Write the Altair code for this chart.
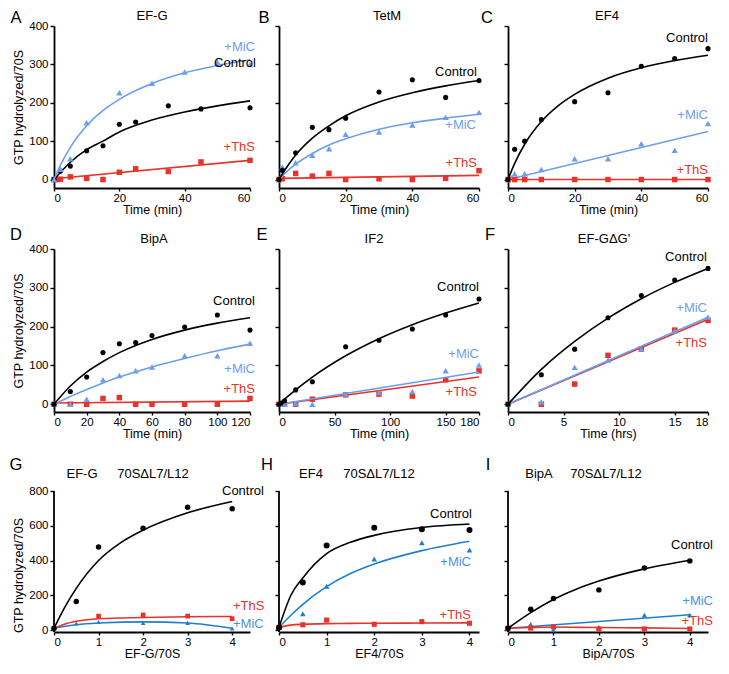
import altair as alt
import pandas as pd

# ---------------- data ----------------
# A  EF-G
A_ctrl_t = [0, 2, 5, 10, 15, 20, 25, 35, 45, 60]
A_ctrl_v = [0, 22, 35, 75, 88, 144, 150, 192, 184, 187]
A_mic_t = [0, 2, 5, 10, 20, 30, 40, 50, 60]
A_mic_v = [0, 27, 54, 148, 226, 251, 280, 306, 300]
A_ths_t = [0, 1, 2, 5, 10, 15, 20, 25, 35, 45, 60]
A_ths_v = [0, 0, 1, 7, 3, 0, 19, 28, 21, 46, 50]
A_fit_t = [0, 2, 5, 10, 15, 20, 30, 40, 50, 60]
A_ctrl_fit = [0, 19, 45, 78, 100, 124, 155, 176, 192, 205]
A_mic_fit = [0, 38, 84, 140, 180, 209, 250, 278, 297, 312]
A_ths_fit_t = [0, 60]
A_ths_fit = [2, 50]

# B  TetM
B_t = [0, 1, 5, 10, 15, 20, 30, 40, 50, 60]
B_ctrl_v = [0, 24, 70, 136, 130, 160, 228, 260, 214, 258]
B_mic_v = [0, 33, 44, 63, 80, 118, 124, 142, 162, 175]
B_ths_v = [0, 2, 16, 9, 16, 0, 2, 0, 3, 23]
B_fit_t = [0, 2, 5, 10, 15, 20, 30, 40, 50, 60]
B_ctrl_fit = [0, 28, 64, 108, 140, 166, 202, 226, 244, 258]
B_mic_fit = [0, 18, 40, 68, 90, 106, 131, 148, 160, 170]
B_ths_fit_t = [0, 60]
B_ths_fit = [3, 11]

# C  EF4
C_ctrl_t = [0, 2, 5, 10, 20, 30, 40, 50, 60]
C_ctrl_v = [0, 79, 100, 156, 203, 226, 295, 315, 341]
C_mic_t = [0, 1, 2, 5, 10, 20, 30, 40, 50, 60]
C_mic_v = [0, 5, 15, 15, 26, 54, 54, 93, 76, 146]
C_ths_t = [0, 2, 5, 10, 20, 30, 40, 50, 60]
C_ths_v = [0, 0, 0, 0, 0, 0, 0, 0, 0]
C_fit_t = [0, 2, 5, 10, 15, 20, 30, 40, 50, 60]
C_ctrl_fit = [0, 42, 92, 151, 192, 222, 264, 291, 310, 324]
C_lin_t = [0, 60]
C_mic_fit = [0, 125]
C_ths_fit = [0, 0]

# D  BipA
D_t = [0, 10, 20, 30, 40, 50, 60, 80, 100, 120]
D_ctrl_v = [0, 33, 70, 133, 156, 159, 177, 199, 230, 191]
D_mic_v = [0, 0, 13, 63, 74, 86, 96, 125, 125, 157]
D_ths_v = [0, 0, 0, 15, 17, 0, 0, 0, 0, 15]
D_fit_t = [0, 10, 20, 30, 40, 60, 80, 100, 120]
D_ctrl_fit = [0, 47, 83, 110, 133, 167, 191, 209, 223]
D_mic_fit = [0, 20, 38, 55, 70, 96, 118, 138, 155]
D_ths_fit_t = [0, 120]
D_ths_fit = [3, 8]

# E  IF2
E_t = [0, 2, 5, 15, 30, 60, 90, 120, 150, 180]
E_ctrl_v = [0, 3, 9, 37, 58, 148, 165, 194, 230, 271]
E_mic_v = [0, 0, 0, 2, 0, 26, 30, 33, 86, 101]
E_ths_v = [0, 0, 0, 0, 13, 24, 26, 21, 63, 86]
E_fit_t = [0, 5, 15, 30, 60, 90, 120, 150, 180]
E_ctrl_fit = [0, 13, 37, 70, 125, 169, 205, 235, 261]
E_lin_t = [0, 180]
E_mic_fit = [0, 83]
E_ths_fit = [0, 70]

# F  EF-G dG'
F_t = [0, 3, 6, 9, 12, 15, 18]
F_ctrl_v = [0, 76, 142, 223, 280, 320, 350]
F_mic_v = [0, 6, 95, 114, 142, 189, 225]
F_ths_v = [0, 0, 52, 126, 142, 191, 216]
F_ctrl_fit = [0, 90, 162, 222, 272, 314, 350]
F_lin_t = [0, 18]
F_mic_fit = [0, 224]
F_ths_fit = [0, 219]

# G  EF-G 70S dL7/L12
G_x = [0, 0.5, 1, 2, 3, 4]
G_ctrl_v = [10, 164, 478, 586, 707, 698]
G_mic_v = [10, 37, 46, 41, 41, 9]
G_ths_x = [0, 1, 2, 3, 4]
G_ths_v = [10, 80, 87, 80, 65]
G_ctrl_fit_x = [0, 0.25, 0.5, 1, 1.5, 2, 3, 4]
G_ctrl_fit = [10, 135, 240, 400, 503, 575, 675, 740]
G_mic_fit_x = [0, 0.5, 1, 2, 3, 4]
G_mic_fit = [10, 30, 40, 47, 40, 10]
G_ths_fit_x = [0, 0.25, 0.5, 1, 2, 3, 4]
G_ths_fit = [10, 35, 50, 65, 72, 76, 78]

# H  EF4 70S dL7/L12
H_x = [0, 0.5, 1, 2, 3, 4]
H_ctrl_v = [15, 274, 487, 589, 580, 576]
H_mic_v = [15, 94, 252, 409, 502, 461]
H_ths_v = [15, 30, 57, 33, 48, 39]
H_fit_x = [0, 0.25, 0.5, 1, 1.5, 2, 3, 4]
H_ctrl_fit = [15, 200, 300, 440, 505, 545, 590, 610]
H_mic_fit = [15, 85, 148, 250, 325, 380, 457, 511]
H_ths_fit = [15, 28, 33, 37, 38, 39, 40, 41]

# I  BipA 70S dL7/L12
I_x = [0, 0.5, 1, 2, 3, 4]
I_ctrl_v = [10, 120, 181, 231, 357, 398]
I_mic_v = [10, 33, 0, 15, 85, 85]
I_ths_v = [10, 11, 18, 6, 6, 6]
I_ctrl_fit_x = [0, 0.5, 1, 1.5, 2, 3, 4]
I_ctrl_fit = [10, 100, 176, 235, 282, 352, 402]
I_lin_x = [0, 4]
I_mic_fit = [10, 88]
I_ths_fit_x = [0, 0.5, 1, 2, 3, 4]
I_ths_fit = [10, 14, 17, 14, 12, 9]

# ---------------- styling ----------------
BLACK = "#000000"
RED = "#e8322b"
BLUE = "#6d9eeb"
BLUE_D = "#1f7fcf"
BLUE_L = "#4b93e6"
FONT = "Liberation Sans"
LETTER_FONT = "Liberation Sans"

Y_TITLE = "GTP hydrolyzed/70S"


def ctrl(px, py, fx, fy, size=26):
    return (px, py, fx, fy, BLACK, "circle", size)


def mic(px, py, fx, fy, color=BLUE, size=40):
    return (px, py, fx, fy, color, "triangle-up", size)


def ths(px, py, fx, fy, size=30):
    return (px, py, fx, fy, RED, "square", size)


ROW1 = dict(ydom=[-22, 400], yticks=[0, 100, 200, 300, 400], h=162, row3=False, lb=-3, tb=-6)
ROW2 = dict(ydom=[-20, 400], yticks=[0, 100, 200, 300, 400], h=163, row3=False, lb=-9, tb=-6)
ROW3 = dict(ydom=[-11.5, 904], yticks=[0, 200, 400, 600, 800], h=159, row3=True, lb=-3, tb=5)

panels = [
    dict(ROW1, letter="A", lx=-38, w=196, ylab=True,
         titles=[("EF-G", 98)],
         xdom=[0, 60], xticks=[0, 20, 40, 60], xtitle="Time (min)",
         series=[ths(A_ths_t, A_ths_v, A_ths_fit_t, A_ths_fit),
                 ctrl(A_ctrl_t, A_ctrl_v, A_fit_t, A_ctrl_fit),
                 mic(A_mic_t, A_mic_v, A_fit_t, A_mic_fit)],
         labels=[("+MiC", 201, 21, "right", BLUE), ("Control", 202, 37, "right", BLACK),
                 ("+ThS", 201, 121, "right", RED)]),
    dict(ROW1, letter="B", lx=-15, w=200, ylab=False,
         titles=[("TetM", 108)],
         xdom=[0, 60], xticks=[0, 20, 40, 60], xtitle="Time (min)",
         series=[ths(B_t, B_ths_v, B_ths_fit_t, B_ths_fit),
                 mic(B_t, B_mic_v, B_fit_t, B_mic_fit),
                 ctrl(B_t, B_ctrl_v, B_fit_t, B_ctrl_fit)],
         labels=[("Control", 198, 46, "right", BLACK), ("+MiC", 197, 99, "right", BLUE),
                 ("+ThS", 198, 137, "right", RED)]),
    dict(ROW1, letter="C", lx=-21, w=200, ylab=False,
         titles=[("EF4", 99)],
         xdom=[0, 60], xticks=[0, 20, 40, 60], xtitle="Time (min)",
         series=[mic(C_mic_t, C_mic_v, C_lin_t, C_mic_fit),
                 ths(C_ths_t, C_ths_v, C_lin_t, C_ths_fit),
                 ctrl(C_ctrl_t, C_ctrl_v, C_fit_t, C_ctrl_fit)],
         labels=[("Control", 200, 12, "right", BLACK), ("+MiC", 200, 89, "right", BLUE),
                 ("+ThS", 200, 144, "right", RED)]),
    dict(ROW2, letter="D", lx=-38, w=196, ylab=True,
         titles=[("BipA", 100)],
         xdom=[0, 120], xticks=[0, 20, 40, 60, 80, 100, 120], xtitle="Time (min)",
         series=[ths(D_t, D_ths_v, D_ths_fit_t, D_ths_fit),
                 mic(D_t, D_mic_v, D_fit_t, D_mic_fit),
                 ctrl(D_t, D_ctrl_v, D_fit_t, D_ctrl_fit)],
         labels=[("Control", 201, 52, "right", BLACK), ("+MiC", 201, 120, "right", BLUE),
                 ("+ThS", 201, 140, "right", RED)]),
    dict(ROW2, letter="E", lx=-17, w=200, ylab=False,
         titles=[("IF2", 95)],
         xdom=[0, 180], xticks=[0, 50, 100, 150, 180], xtitle="Time (min)",
         series=[ths(E_t, E_ths_v, E_lin_t, E_ths_fit),
                 mic(E_t, E_mic_v, E_lin_t, E_mic_fit),
                 ctrl(E_t, E_ctrl_v, E_fit_t, E_ctrl_fit)],
         labels=[("Control", 200, 38, "right", BLACK), ("+MiC", 200, 105, "right", BLUE),
                 ("+ThS", 198, 143, "right", RED)]),
    dict(ROW2, letter="F", lx=-18, w=200, ylab=False,
         titles=[("EF-G\u0394G'", 96)],
         xdom=[0, 18], xticks=[0, 5, 10, 15, 18], xtitle="Time (hrs)",
         series=[ths(F_t, F_ths_v, F_lin_t, F_ths_fit),
                 mic(F_t, F_mic_v, F_lin_t, F_mic_fit),
                 ctrl(F_t, F_ctrl_v, F_t, F_ctrl_fit)],
         labels=[("Control", 199, 8, "right", BLACK), ("+MiC", 199, 59, "right", BLUE),
                 ("+ThS", 199, 94, "right", RED)]),
    dict(ROW3, letter="G", lx=-38, w=196, ylab=True,
         titles=[("EF-G", 28), ("70S\u0394L7/L12", 99)],
         xdom=[0, 4.4], xticks=[0, 1, 2, 3, 4], xtitle="EF-G/70S",
         series=[mic(G_x, G_mic_v, G_mic_fit_x, G_mic_fit, color=BLUE_D, size=22),
                 ths(G_ths_x, G_ths_v, G_ths_fit_x, G_ths_fit, size=22),
                 ctrl(G_x, G_ctrl_v, G_ctrl_fit_x, G_ctrl_fit, size=30)],
         labels=[("Control", 168, 18, "left", BLACK), ("+ThS", 179, 133, "left", RED),
                 ("+MiC", 179, 151, "left", BLUE_L)]),
    dict(ROW3, letter="H", lx=-12, w=200, ylab=False,
         titles=[("EF4", 32), ("70S\u0394L7/L12", 100)],
         xdom=[0, 4.2], xticks=[0, 1, 2, 3, 4], xtitle="EF4/70S",
         series=[ths(H_x, H_ths_v, H_fit_x, H_ths_fit, size=26),
                 mic(H_x, H_mic_v, H_fit_x, H_mic_fit, color=BLUE_D, size=32),
                 ctrl(H_x, H_ctrl_v, H_fit_x, H_ctrl_fit, size=36)],
         labels=[("Control", 193, 41, "right", BLACK), ("+MiC", 192, 89, "right", BLUE_L),
                 ("+ThS", 192, 142, "right", RED)]),
    dict(ROW3, letter="I", lx=-20, w=200, ylab=False,
         titles=[("BipA", 31), ("70S\u0394L7/L12", 98)],
         xdom=[0, 4.4], xticks=[0, 1, 2, 3, 4], xtitle="BipA/70S",
         series=[mic(I_x, I_mic_v, I_lin_x, I_mic_fit, color=BLUE_D, size=30),
                 ths(I_x, I_ths_v, I_ths_fit_x, I_ths_fit, size=26),
                 ctrl(I_x, I_ctrl_v, I_ctrl_fit_x, I_ctrl_fit, size=30)],
         labels=[("Control", 205, 72, "right", BLACK), ("+MiC", 205, 128, "right", BLUE_L),
                 ("+ThS", 205, 148, "right", RED)]),
]


def text_layer(txt, x, y, align, color, size=13, font=FONT, baseline="middle"):
    return alt.Chart(pd.DataFrame({"t": [txt]})).mark_text(
        align=align, baseline=baseline, fontSize=size, font=font, color=color
    ).encode(text="t:N", x=alt.value(x), y=alt.value(y))


def make_panel(p):
    xaxis_kw = dict(values=p["xticks"], title=p["xtitle"], format="d", titlePadding=0)
    yaxis_kw = dict(values=p["yticks"], labels=p["ylab"], format="d",
                    domain=not p["row3"])
    if p["ylab"]:
        yaxis_kw["title"] = Y_TITLE
        if p["row3"]:
            yaxis_kw["titleY"] = 102
    else:
        yaxis_kw["title"] = ""
    X = alt.X("x:Q", scale=alt.Scale(domain=p["xdom"], nice=False, zero=False), axis=alt.Axis(**xaxis_kw))
    Y = alt.Y("y:Q", scale=alt.Scale(domain=p["ydom"], nice=False, zero=False), axis=alt.Axis(**yaxis_kw))

    layers = []
    if p["row3"]:
        layers.append(
            alt.Chart(pd.DataFrame({"x": [0], "y": [800], "y2": [p["ydom"][0]]}))
            .mark_rule(color=BLACK, strokeWidth=1.8)
            .encode(x=alt.value(0), y=Y, y2="y2:Q")
        )
    for (px, py, fx, fy, color, shape, size) in p["series"]:
        layers.append(
            alt.Chart(pd.DataFrame({"x": fx, "y": fy}))
            .mark_line(color=color, strokeWidth=1.6, interpolate="monotone")
            .encode(x=X, y=Y)
        )
        layers.append(
            alt.Chart(pd.DataFrame({"x": px, "y": py}))
            .mark_point(shape=shape, filled=True, color=color, size=size, opacity=1)
            .encode(x=X, y=Y)
        )
    for (txt, x, y, align, color) in p["labels"]:
        layers.append(text_layer(txt, x, y, align, color))
    for (txt, x) in p["titles"]:
        layers.append(text_layer(txt, x, p["tb"], "center", BLACK, baseline="alphabetic"))
    layers.append(text_layer(p["letter"], p["lx"], p["lb"], "center", BLACK, size=16.5,
                             font=LETTER_FONT, baseline="alphabetic"))
    return alt.layer(*layers).properties(width=p["w"], height=p["h"])


chart = alt.concat(
    *[make_panel(p) for p in panels],
    columns=3,
    spacing={"row": 61, "column": 29},
    bounds="flush",
).properties(
    padding={"left": 1, "top": 2, "right": 0, "bottom": 0}
).configure_view(stroke=None).configure_axis(
    domainColor=BLACK, domainWidth=1.8, tickColor=BLACK, tickWidth=1.4,
    labelColor=BLACK, titleColor=BLACK, labelFont=FONT, titleFont=FONT,
    labelFontSize=11.5, titleFontSize=12.5, titleFontWeight="normal", grid=False,
).configure_axisX(tickSize=3, labelPadding=1).configure_axisY(
    tickSize=4, labelPadding=2, titlePadding=3
)

chart.save("out.html", embed_options={"renderer": "svg", "actions": False})
